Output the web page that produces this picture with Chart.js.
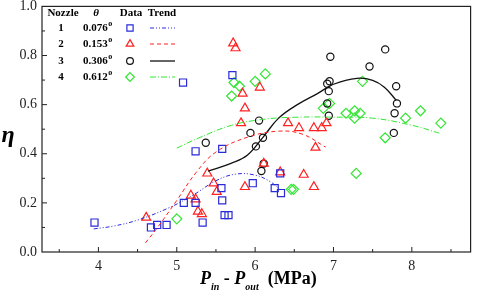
<!DOCTYPE html>
<html>
<head>
<meta charset="utf-8">
<script src="https://cdn.jsdelivr.net/npm/chart.js@4.4.1/dist/chart.umd.min.js"></script>
<style>
  html, body { margin: 0; padding: 0; background: #fff; }
  #wrap { width: 477px; height: 292px; }
</style>
</head>
<body>
<div id="wrap"><canvas id="eta-chart" width="477" height="292"></canvas></div>
<script>
// nozzle data
var nozzles = ['1', '2', '3', '4'];
var angles = ['0.076', '0.153', '0.306', '0.612'];
var xTicks = [4, 5, 6, 7, 8];
var yTicks = [0, 0.2, 0.4, 0.6, 0.8, 1.0];

var n1X = [3.95, 4.67, 4.75, 4.87, 5.08, 5.09, 5.24, 5.24, 5.33, 5.58, 5.57, 5.58, 5.61, 5.66, 5.71, 5.97, 6.25, 6.33, 6.32];
var n1Y = [0.12, 0.10, 0.11, 0.11, 0.69, 0.20, 0.20, 0.41, 0.12, 0.42, 0.26, 0.21, 0.15, 0.15, 0.72, 0.28, 0.26, 0.24, 0.32];

var n2X = [4.61, 5.18, 5.24, 5.27, 5.32, 5.39, 5.47, 5.51, 5.72, 5.75, 5.84, 6.06, 5.87, 5.82, 6.42, 6.56, 6.75, 6.85, 6.91, 6.77, 6.11, 6.32, 6.62, 5.87, 6.75];
var n2Y = [0.14, 0.23, 0.215, 0.165, 0.155, 0.32, 0.28, 0.245, 0.85, 0.83, 0.645, 0.67, 0.585, 0.525, 0.525, 0.505, 0.505, 0.505, 0.525, 0.425, 0.36, 0.325, 0.315, 0.265, 0.265];

var n3X = [5.37, 5.94, 6.05, 6.10, 6.01, 6.11, 6.08, 6.96, 7.66, 7.46, 6.92, 6.95, 6.94, 6.92, 6.94, 7.80, 7.81, 7.78, 7.77];
var n3Y = [0.445, 0.485, 0.535, 0.465, 0.43, 0.36, 0.33, 0.795, 0.825, 0.755, 0.685, 0.695, 0.655, 0.605, 0.555, 0.675, 0.605, 0.565, 0.485];

var n4X = [5.00, 5.70, 5.73, 5.80, 6.00, 6.13, 6.46, 6.49, 6.87, 6.95, 7.37, 7.16, 7.27, 7.27, 7.34, 7.92, 8.11, 8.37, 7.66, 7.29];
var n4Y = [0.135, 0.635, 0.69, 0.675, 0.695, 0.725, 0.255, 0.255, 0.585, 0.605, 0.695, 0.565, 0.575, 0.545, 0.565, 0.545, 0.575, 0.525, 0.465, 0.32];

// trend curves
var t1X = [3.94, 4.2, 4.5, 4.9, 5.2, 5.5, 5.75, 6.0, 6.2, 6.33];
var t1Y = [0.094, 0.106, 0.13, 0.18, 0.23, 0.29, 0.317, 0.313, 0.285, 0.25];
var t2X = [4.6, 4.75, 5.0, 5.25, 5.5, 5.9, 6.3, 6.6, 6.9];
var t2Y = [0.037, 0.098, 0.21, 0.325, 0.407, 0.467, 0.492, 0.48, 0.427];
var t3X = [5.4, 5.7, 5.9, 6.1, 6.3, 6.55, 6.8, 7.0, 7.3, 7.5, 7.65, 7.8];
var t3Y = [0.329, 0.362, 0.394, 0.467, 0.545, 0.602, 0.646, 0.683, 0.707, 0.699, 0.671, 0.618];
var t4X = [5.0, 5.27, 5.7, 6.13, 6.55, 7.0, 7.5, 8.0, 8.35];
var t4Y = [0.423, 0.463, 0.516, 0.541, 0.549, 0.549, 0.545, 0.516, 0.484];

var colors = ['#2a2ad8', '#ff2020', '#111111', '#33e633'];
var markers = ['rect', 'triangle', 'circle', 'rectRot'];
var radii = [5, 5.2, 3.6, 5];
var dashes = [[4, 2, 1, 2, 1, 2], [4, 3], [], [6, 2, 1, 2]];
var SERIF = '"Liberation Serif", "DejaVu Serif", serif';

function pts(xs, ys) {
	var out = [];
	for (var i = 0; i < xs.length; i++) out.push({x: xs[i], y: ys[i]});
	return out;
}

var dataSets = [[n1X, n1Y], [n2X, n2Y], [n3X, n3Y], [n4X, n4Y]];
var trendSets = [[t1X, t1Y], [t2X, t2Y], [t3X, t3Y], [t4X, t4Y]];

var datasets = [];
trendSets.forEach(function(t, i) {
	datasets.push({
		label: 'Trend ' + nozzles[i],
		data: pts(t[0], t[1]),
		showLine: true,
		borderColor: colors[i],
		borderWidth: i == 2 ? 1.3 : 1,
		borderDash: dashes[i],
		tension: 0.4,
		pointRadius: 0,
		fill: false
	});
});
dataSets.forEach(function(d, i) {
	datasets.push({
		label: 'Nozzle ' + nozzles[i],
		data: pts(d[0], d[1]),
		showLine: false,
		pointStyle: markers[i],
		pointRadius: radii[i],
		pointBorderColor: colors[i],
		pointBackgroundColor: 'rgba(0,0,0,0)',
		pointBorderWidth: 1.2
	});
});

function drawMarker(ctx, style, x, y, r, color) {
	ctx.save();
	ctx.strokeStyle = color;
	ctx.lineWidth = 1.2;
	ctx.setLineDash([]);
	ctx.beginPath();
	if (style == 'rect') {
		var s = r * Math.SQRT1_2;
		ctx.rect(x - s, y - s, 2 * s, 2 * s);
	} else if (style == 'triangle') {
		ctx.moveTo(x, y - r);
		ctx.lineTo(x + r * 0.866, y + r * 0.5);
		ctx.lineTo(x - r * 0.866, y + r * 0.5);
		ctx.closePath();
	} else if (style == 'circle') {
		ctx.arc(x, y, r, 0, Math.PI * 2);
	} else {
		ctx.moveTo(x, y - r);
		ctx.lineTo(x + r, y);
		ctx.lineTo(x, y + r);
		ctx.lineTo(x - r, y);
		ctx.closePath();
	}
	ctx.stroke();
	ctx.restore();
}

var framePlugin = {
	id: 'frame',
	afterDraw: function(chart) {
		var ctx = chart.ctx, a = chart.chartArea;
		var xs = chart.scales.x, ys = chart.scales.y;
		ctx.save();
		ctx.strokeStyle = '#222';
		ctx.lineWidth = 1.2;
		ctx.strokeRect(a.left, a.top, a.right - a.left, a.bottom - a.top);
		ctx.lineWidth = 1;
		ctx.beginPath();
		for (var v = 3.5; v <= 8.75; v += 0.5) {
			var px = xs.getPixelForValue(v);
			var len = (v % 1 == 0) ? 5 : 3;
			ctx.moveTo(px, a.bottom); ctx.lineTo(px, a.bottom - len);
		}
		for (var k = 1; k < 10; k++) {
			var py = ys.getPixelForValue(k / 10);
			var l2 = (k % 2 == 0) ? 5 : 3;
			ctx.moveTo(a.left, py); ctx.lineTo(a.left + l2, py);
		}
		ctx.stroke();

		// axis titles
		ctx.fillStyle = '#000';
		ctx.textBaseline = 'alphabetic';
		ctx.font = 'italic bold 24px ' + SERIF;
		ctx.textAlign = 'center';
		ctx.fillText('\u03b7', 8, 142);

		var big = 'bold 18px ' + SERIF, bigI = 'italic bold 18px ' + SERIF, sub = 'italic bold 10px ' + SERIF;
		var parts = [[bigI, 'P', 0], [sub, 'in', 6], [big, ' - ', 0], [bigI, 'P', 0], [sub, 'out', 6], [big, '  (MPa)', 0]];
		var total = 0;
		parts.forEach(function(p) { ctx.font = p[0]; total += ctx.measureText(p[1]).width; });
		var cx = 200;
		ctx.textAlign = 'left';
		parts.forEach(function(p) {
			ctx.font = p[0];
			ctx.fillText(p[1], cx, 284 + p[2]);
			cx += ctx.measureText(p[1]).width;
		});

		// legend table
		ctx.font = 'bold 11px ' + SERIF;
		ctx.textAlign = 'center';
		ctx.textBaseline = 'middle';
		ctx.fillText('Nozzle', 63, 13);
		ctx.font = 'italic bold 11px ' + SERIF;
		ctx.fillText('\u03b8', 96, 13);
		ctx.font = 'bold 11px ' + SERIF;
		ctx.fillText('Data', 131, 13);
		ctx.fillText('Trend', 162, 13);
		var rowY = [28, 44, 61, 77];
		for (var i = 0; i < 4; i++) {
			var y = rowY[i];
			ctx.font = 'bold 11px ' + SERIF;
			ctx.textAlign = 'center';
			ctx.fillText(nozzles[i], 61, y);
			ctx.textAlign = 'left';
			ctx.fillText(angles[i], 83, y);
			var w = ctx.measureText(angles[i]).width;
			ctx.font = 'bold 8px ' + SERIF;
			ctx.fillText('o', 83 + w + 0.5, y - 4);
			drawMarker(ctx, markers[i], 130, y, i == 2 ? 3.4 : 4.4, colors[i]);
			ctx.strokeStyle = colors[i];
			ctx.lineWidth = i == 2 ? 1.3 : 1;
			ctx.setLineDash(dashes[i]);
			ctx.beginPath();
			ctx.moveTo(150, y); ctx.lineTo(175, y);
			ctx.stroke();
			ctx.setLineDash([]);
		}
		ctx.restore();
	}
};

var etaChart = new Chart(document.getElementById('eta-chart').getContext('2d'), {
	type: 'scatter',
	data: { datasets: datasets },
	options: {
		responsive: false,
		animation: false,
		layout: { padding: { top: 5, right: 3, left: 0, bottom: 0 } },
		plugins: { legend: { display: false }, tooltip: { enabled: false } },
		scales: {
			x: {
				type: 'linear',
				min: 3.28,
				max: 8.75,
				afterBuildTicks: function(s) { s.ticks = xTicks.map(function(v) { return {value: v}; }); },
				afterFit: function(s) { s.height = 40; s.paddingLeft = 0; s.paddingRight = 0; },
				grid: { display: false, drawTicks: false },
				border: { display: false },
				ticks: {
					padding: 6,
					color: '#222',
					font: { family: SERIF, size: 14 },
					callback: function(v) { return v; }
				}
			},
			y: {
				type: 'linear',
				min: 0,
				max: 1.0,
				afterBuildTicks: function(s) { s.ticks = yTicks.map(function(v) { return {value: v}; }); },
				afterFit: function(s) { s.width = 42; s.paddingTop = 0; s.paddingBottom = 0; },
				grid: { display: false, drawTicks: false },
				border: { display: false },
				ticks: {
					padding: 5,
					color: '#222',
					font: { family: SERIF, size: 14 },
					callback: function(v) { return v.toFixed(1); }
				}
			}
		}
	},
	plugins: [framePlugin]
});
</script>
</body>
</html>
